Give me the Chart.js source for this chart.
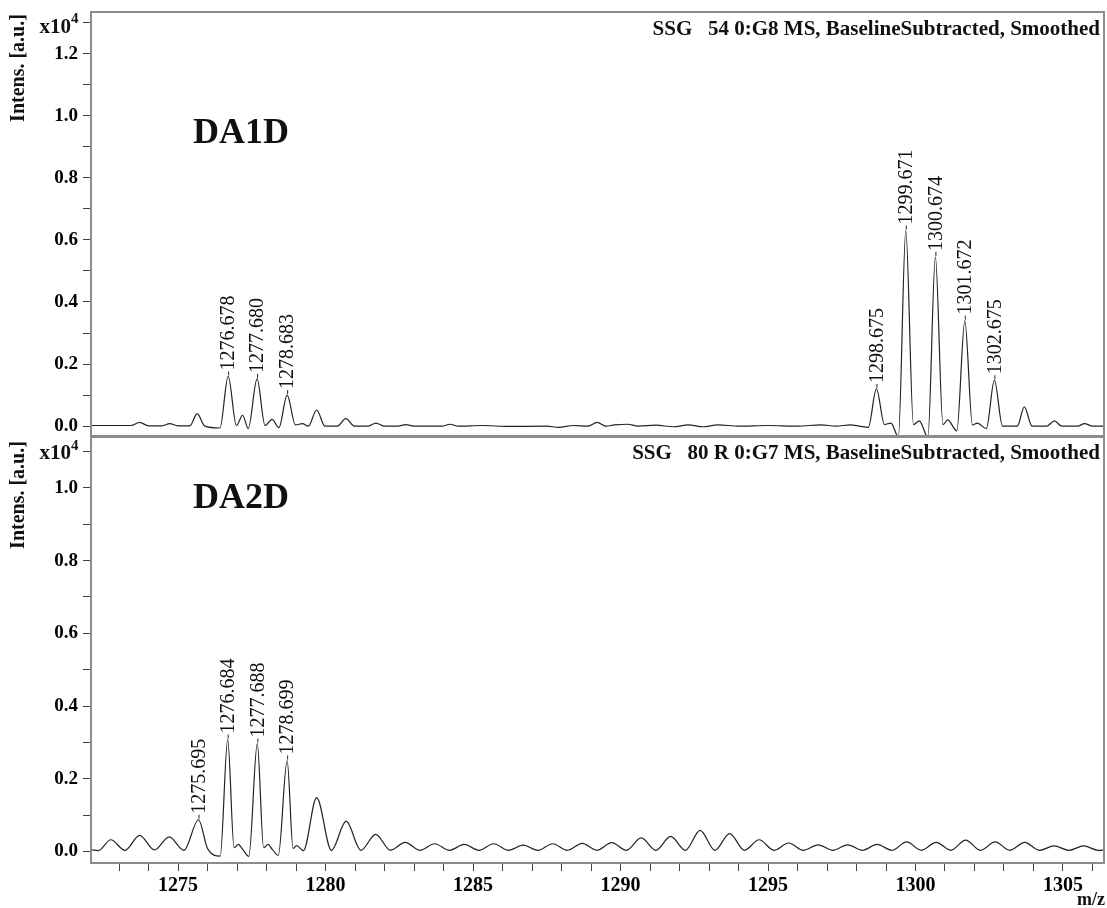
<!DOCTYPE html>
<html>
<head>
<meta charset="utf-8">
<script src="https://cdn.jsdelivr.net/npm/chart.js@4.4.1/dist/chart.umd.min.js"></script>
<style>
  html, body { margin: 0; padding: 0; background: #fff; }
  body { width: 1107px; height: 908px; position: relative; overflow: hidden; }
  .panel { position: absolute; left: 0; }
  #p1 { top: 0; width: 1107px; height: 440px; }
  #p2 { top: 430px; width: 1107px; height: 478px; }
</style>
</head>
<body>
<div class="panel" id="p1"><canvas id="c1" width="1107" height="440"></canvas></div>
<div class="panel" id="p2"><canvas id="c2" width="1107" height="478"></canvas></div>
<script>
// ---------------- DATA ----------------
// x-axis (m/z) range and ticks
const mzMin = 1272.05;
const mzMax = 1306.39;
const xTickValues = [1273,1274,1275,1276,1277,1278,1279,1280,1281,1282,1283,1284,1285,1286,1287,1288,1289,1290,1291,1292,1293,1294,1295,1296,1297,1298,1299,1300,1301,1302,1303,1304,1305,1306];
const xTickLabels = ['1275','1280','1285','1290','1295','1300','1305'];

// y ticks (intensity, x10^4 a.u.)
const topYTickValues = [0,0.1,0.2,0.3,0.4,0.5,0.6,0.7,0.8,0.9,1.0,1.1,1.2,1.3];
const topYTickLabels = ['0.0','0.2','0.4','0.6','0.8','1.0','1.2'];
const botYTickValues = [0,0.1,0.2,0.3,0.4,0.5,0.6,0.7,0.8,0.9,1.0,1.1];
const botYTickLabels = ['0.0','0.2','0.4','0.6','0.8','1.0'];

// DA1D spectrum (top)
const topMz = [1272.05,1273.4,1273.7,1274.0,1274.45,1274.72,1275.0,1275.4,1275.65,1275.9,1276.42,1276.70,1276.98,1277.19,1277.38,1277.68,1277.95,1278.19,1278.42,1278.70,1278.98,1279.22,1279.42,1279.70,1279.98,1280.4,1280.69,1280.98,1281.45,1281.71,1281.98,1282.45,1282.72,1283.0,1283.95,1284.22,1284.5,1285.3,1286.2,1287.5,1287.9,1288.4,1288.9,1289.21,1289.5,1289.8,1290.23,1290.6,1291.2,1291.8,1292.3,1292.8,1293.3,1294.0,1295.0,1296.0,1296.8,1297.3,1297.8,1298.1,1298.40,1298.675,1298.95,1299.17,1299.42,1299.671,1299.93,1300.13,1300.42,1300.674,1300.93,1301.09,1301.40,1301.672,1301.93,1302.10,1302.40,1302.675,1302.95,1303.2,1303.45,1303.69,1303.95,1304.45,1304.71,1304.95,1305.5,1305.73,1306.0,1306.39];
const topInt = [0.002,0.002,0.012,0.001,0.001,0.008,0.001,0.001,0.040,0.001,-0.006,0.160,0.002,0.035,-0.008,0.152,0.002,0.022,-0.005,0.100,0.004,0.008,0.000,0.052,0.000,0.000,0.024,0.000,0.000,0.010,0.000,0.000,0.005,0.000,0.000,0.006,0.000,0.002,-0.001,0.000,-0.004,0.002,0.000,0.012,0.000,0.004,0.006,0.000,0.003,-0.002,0.004,-0.002,0.004,0.000,0.002,0.000,0.004,0.000,0.004,0.000,-0.004,0.120,0.005,0.010,-0.035,0.630,0.005,0.017,-0.035,0.545,0.005,0.020,-0.015,0.340,0.004,0.010,-0.008,0.148,0.000,0.000,0.000,0.062,0.000,0.000,0.017,0.000,0.000,0.008,0.000,0.000];
const topPeakMz = [1276.70,1277.68,1278.70,1298.675,1299.671,1300.674,1301.672,1302.675];
const topPeakInt = [0.160,0.152,0.100,0.120,0.630,0.545,0.340,0.148];
const topPeakText = ['1276.678','1277.680','1278.683','1298.675','1299.671','1300.674','1301.672','1302.675'];

// DA2D spectrum (bottom)
const botMz = [1272.05,1272.3,1272.72,1273.2,1273.70,1274.2,1274.70,1275.2,1275.695,1276.0,1276.43,1276.684,1276.9,1277.04,1277.20,1277.40,1277.688,1277.9,1278.05,1278.2,1278.40,1278.699,1278.9,1279.02,1279.25,1279.70,1280.2,1280.70,1281.2,1281.70,1282.2,1282.70,1283.2,1283.70,1284.2,1284.70,1285.2,1285.70,1286.2,1286.70,1287.2,1287.70,1288.2,1288.70,1289.2,1289.70,1290.2,1290.70,1291.2,1291.70,1292.2,1292.70,1293.2,1293.70,1294.2,1294.70,1295.2,1295.70,1296.2,1296.70,1297.2,1297.70,1298.2,1298.70,1299.2,1299.70,1300.2,1300.70,1301.2,1301.70,1302.2,1302.70,1303.2,1303.70,1304.2,1304.70,1305.2,1305.70,1306.2,1306.39];
const botInt = [0.004,0.002,0.032,0.003,0.044,0.004,0.040,0.003,0.087,0.008,-0.013,0.308,0.010,0.019,0.005,-0.014,0.297,0.010,0.019,0.005,-0.011,0.250,0.008,0.016,0.002,0.148,0.003,0.083,0.003,0.047,0.003,0.025,0.003,0.021,0.003,0.019,0.003,0.021,0.003,0.017,0.003,0.021,0.003,0.022,0.003,0.024,0.003,0.037,0.003,0.041,0.003,0.058,0.003,0.049,0.003,0.032,0.003,0.023,0.003,0.018,0.003,0.018,0.003,0.019,0.003,0.026,0.003,0.025,0.003,0.031,0.003,0.026,0.003,0.025,0.003,0.015,0.003,0.015,0.003,0.004];
const botPeakMz = [1275.695,1276.684,1277.688,1278.699];
const botPeakInt = [0.087,0.308,0.297,0.250];
const botPeakText = ['1275.695','1276.684','1277.688','1278.699'];

// ---------------- DRAWING ----------------
const SERIF = '"Liberation Serif", "Times New Roman", serif';

function decorPlugin(cfg) {
  return {
    id: 'decor',
    afterDraw(chart) {
      const ctx = chart.ctx, a = chart.chartArea;
      const x = chart.scales.x, y = chart.scales.y;
      ctx.save();
      // frame
      ctx.strokeStyle = '#8c8c8c';
      ctx.lineWidth = 2;
      ctx.strokeRect(a.left, a.top, a.right - a.left, a.bottom - a.top);
      ctx.fillStyle = '#111';
      // run title
      ctx.font = 'bold 21px ' + SERIF;
      ctx.textAlign = 'right';
      ctx.textBaseline = 'alphabetic';
      ctx.fillText(cfg.title, a.right - 4, a.top + cfg.titleDy);
      // sample name
      ctx.font = 'bold 36px ' + SERIF;
      ctx.textAlign = 'left';
      ctx.fillText(cfg.sample, a.left + 102, a.top + cfg.sampleDy);
      // y axis title (at top of axis)
      ctx.save();
      ctx.translate(19, cfg.intensCy);
      ctx.rotate(-Math.PI / 2);
      ctx.font = 'bold 20px ' + SERIF;
      ctx.textAlign = 'center';
      ctx.textBaseline = 'middle';
      ctx.fillText('Intens. [a.u.]', 0, 0);
      ctx.restore();
      // x10^4 exponent at the top tick
      const ty = y.getPixelForValue(cfg.expTick);
      ctx.font = 'bold 21px ' + SERIF;
      ctx.textAlign = 'right';
      ctx.textBaseline = 'middle';
      ctx.fillText('x10', 71, ty + cfg.expDy);
      ctx.font = 'bold 15px ' + SERIF;
      ctx.textAlign = 'left';
      ctx.fillText('4', 71, ty + cfg.expDy - 8);
      // peak labels
      ctx.strokeStyle = '#222';
      ctx.lineWidth = 1;
      ctx.font = '20px ' + SERIF;
      for (let i = 0; i < cfg.peakMz.length; i++) {
        const px = x.getPixelForValue(cfg.peakMz[i]);
        const py = y.getPixelForValue(cfg.peakInt[i]);
        ctx.beginPath();
        ctx.moveTo(px + 0.5, py - 1);
        ctx.lineTo(px + 0.5, py - 5);
        ctx.stroke();
        ctx.save();
        ctx.translate(px + 1, py - 6);
        ctx.rotate(-Math.PI / 2);
        ctx.textAlign = 'left';
        ctx.textBaseline = 'middle';
        ctx.fillText(cfg.peakText[i], 0, 0);
        ctx.restore();
      }
      if (cfg.mzLabel) {
        ctx.font = 'bold 18px ' + SERIF;
        ctx.textAlign = 'right';
        ctx.textBaseline = 'alphabetic';
        ctx.fillText('m/z', chart.width - 2, chart.height - 3);
      }
      ctx.restore();
    }
  };
}

function yScale(min, max, tickVals, tickLabels) {
  return {
    type: 'linear',
    min: min, max: max,
    afterFit(s) { s.width = 91; s.paddingTop = 0; s.paddingBottom = 0; },
    afterBuildTicks(s) { s.ticks = tickVals.map(v => ({ value: v })); },
    ticks: {
      autoSkip: false,
      color: '#000',
      padding: 5,
      font: { family: SERIF, size: 19, weight: 'bold' },
      callback(v) {
        const t = Number(v).toFixed(1);
        return tickLabels.includes(t) ? t : '';
      }
    },
    grid: { drawOnChartArea: false, drawTicks: true, tickLength: 8, color: '#444', lineWidth: 1 },
    border: { display: false }
  };
}

function xScale(show) {
  return {
    type: 'linear',
    min: mzMin, max: mzMax,
    display: show,
    afterFit(s) { s.height = show ? 45 : 0; s.paddingLeft = 0; s.paddingRight = 0; },
    afterBuildTicks(s) { s.ticks = xTickValues.map(v => ({ value: v })); },
    ticks: {
      autoSkip: false, maxRotation: 0, minRotation: 0,
      color: '#000',
      padding: 3,
      font: { family: SERIF, size: 20, weight: 'bold' },
      callback(v) {
        const t = String(Math.round(v));
        return xTickLabels.includes(t) ? t : '';
      }
    },
    grid: { drawOnChartArea: false, drawTicks: true, tickLength: 8, color: '#444', lineWidth: 1 },
    border: { display: false }
  };
}

function makeChart(id, mz, inten, xShow, yMin, yMax, yVals, yLabels, padding, cfg) {
  return new Chart(document.getElementById(id), {
    type: 'line',
    data: {
      datasets: [{
        data: mz.map((m, i) => ({ x: m, y: inten[i] })),
        borderColor: '#222',
        borderWidth: 1.2,
        pointRadius: 0,
        fill: false,
        cubicInterpolationMode: 'monotone'
      }]
    },
    options: {
      responsive: false,
      animation: false,
      devicePixelRatio: 1,
      parsing: false,
      layout: { padding: padding, autoPadding: false },
      plugins: { legend: { display: false }, tooltip: { enabled: false }, title: { display: false } },
      scales: { x: xScale(xShow), y: yScale(yMin, yMax, yVals, yLabels) }
    },
    plugins: [decorPlugin(cfg)]
  });
}

makeChart('c1', topMz, topInt, false, -0.035, 1.334, topYTickValues, topYTickLabels,
  { top: 12, right: 3, bottom: 3, left: 0 },
  { title: 'SSG   54 0:G8 MS, BaselineSubtracted, Smoothed', titleDy: 23, sample: 'DA1D', sampleDy: 131,
    intensCy: 68, expTick: 1.3, expDy: 5, peakMz: topPeakMz, peakInt: topPeakInt, peakText: topPeakText, mzLabel: false });

makeChart('c2', botMz, botInt, true, -0.032, 1.143, botYTickValues, botYTickLabels,
  { top: 6, right: 3, bottom: 0, left: 0 },
  { title: 'SSG   80 R 0:G7 MS, BaselineSubtracted, Smoothed', titleDy: 23, sample: 'DA2D', sampleDy: 72,
    intensCy: 65, expTick: 1.1, expDy: 2, peakMz: botPeakMz, peakInt: botPeakInt, peakText: botPeakText, mzLabel: true });
</script>
</body>
</html>
